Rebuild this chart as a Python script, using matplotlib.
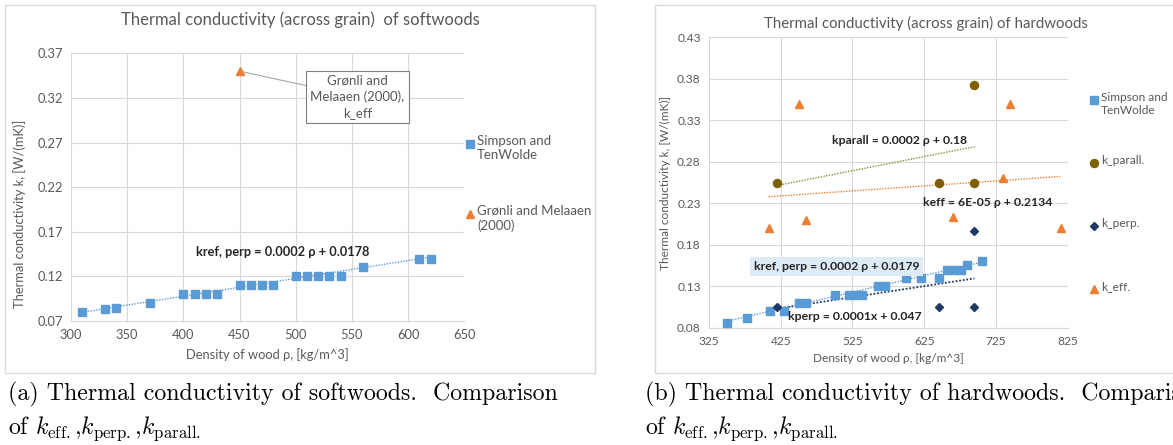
import matplotlib.pyplot as plt
from matplotlib.lines import Line2D
from matplotlib.patches import Rectangle
import numpy as np

plt.rcParams['font.family'] = ['Lato', 'DejaVu Sans']
plt.rcParams['mathtext.fontset'] = 'cm'

W, H = 1173, 445

# Softwoods (Simpson and TenWolde)
soft_rho = [310, 330, 340, 370, 400, 410, 420, 430, 450, 460, 470, 480,
            500, 510, 520, 530, 540, 560, 610, 620]
soft_k = [0.080, 0.083, 0.085, 0.090, 0.100, 0.100, 0.100, 0.100, 0.110, 0.110,
          0.110, 0.110, 0.120, 0.120, 0.120, 0.120, 0.120, 0.130, 0.140, 0.140]
soft_eff_rho = [450]
soft_eff_k = [0.35]
soft_fit = (0.0002, 0.0178)

# Hardwoods
hard_rho = [350, 378, 410, 430, 450, 460, 500, 520, 528, 538, 560, 570,
            600, 620, 645, 657, 666, 676, 685, 705]
hard_k = [0.086, 0.092, 0.100, 0.100, 0.110, 0.110, 0.120, 0.120, 0.120, 0.120,
          0.130, 0.130, 0.140, 0.140, 0.140, 0.150, 0.150, 0.150, 0.155, 0.160]
parall_rho = [420, 645, 695, 695]
parall_k = [0.255, 0.255, 0.255, 0.373]
perp_rho = [420, 645, 695, 695]
perp_k = [0.105, 0.105, 0.105, 0.197]
eff_rho = [408, 450, 460, 665, 735, 745, 815]
eff_k = [0.200, 0.350, 0.210, 0.213, 0.260, 0.350, 0.200]

hard_fit = (0.0002, 0.0179)
parall_fit = (0.00017, 0.18)
perp_fit = (0.000133, 0.047)
eff_fit = (0.00006, 0.2134)

BLUE = '#5B9BD5'
ORANGE = '#ED7D31'
OLIVE = '#7F6000'
NAVY = '#1F3864'
GRID = '#D9D9D9'
TXT = '#595959'


def px(x, y):
    return x / W, 1 - y / H


def axes_px(fig, x0, y0, x1, y1):
    return fig.add_axes([x0 / W, 1 - y1 / H, (x1 - x0) / W, (y1 - y0) / H])


def style(ax, xt, yt, fs):
    ax.set_xlim(xt[0], xt[-1])
    ax.set_ylim(yt[0], yt[-1])
    ax.set_xticks(xt)
    ax.set_yticks(yt)
    ax.set_yticklabels([f'{v:.2f}' for v in yt])
    ax.grid(True, color=GRID, linewidth=0.8)
    ax.set_axisbelow(True)
    for s in ax.spines.values():
        s.set_visible(False)
    ax.spines['bottom'].set_visible(True)
    ax.spines['bottom'].set_color(GRID)
    ax.tick_params(length=0, labelsize=fs, labelcolor=TXT, pad=6)


def labels(ax, fs, xl_y, yl_x, yl_y):
    ax.set_xlabel('Density of wood ρ, [kg/m^3]', fontsize=fs, color=TXT)
    ax.set_ylabel('Thermal conductivity k, [W/(mK)]', fontsize=fs, color=TXT)
    ax.xaxis.set_label_coords(0.5, xl_y)
    ax.xaxis.label.set_va('center')
    ax.yaxis.set_label_coords(yl_x, yl_y)
    ax.yaxis.label.set_va('center')


def trend(ax, rho, fit, color, lw=1.0):
    x = np.array([min(rho), max(rho)])
    ax.plot(x, fit[0] * x + fit[1], linestyle=(0, (1, 1)), color=color, lw=lw, zorder=2)


def legend_px(fig, x, fs, entries):
    for y, marker, color, ms, label in entries:
        fig.add_artist(Line2D([px(x, 0)[0]], [px(0, y)[1]], marker=marker, color=color,
                              markersize=ms, linestyle='none', transform=fig.transFigure))
        fig.text(px(x + 7, 0)[0], px(0, y - fs * 0.95)[1], label, fontsize=fs, color=TXT,
                 va='top', ha='left', linespacing=1.2)


fig = plt.figure(figsize=(W / 100, H / 100), dpi=100)

# chart frames
fig.add_artist(Rectangle(px(5, 373), 590 / W, 368 / H, transform=fig.transFigure,
                         fill=False, edgecolor=GRID, lw=1.0))
fig.add_artist(Rectangle(px(655, 373), 600 / W, 368 / H, transform=fig.transFigure,
                         fill=False, edgecolor=GRID, lw=1.0))

# softwoods
ax1 = axes_px(fig, 71, 53.3, 464.3, 321)
style(ax1, [300, 350, 400, 450, 500, 550, 600, 650], np.arange(0.07, 0.3701, 0.05), 9.3)
trend(ax1, soft_rho, soft_fit, BLUE)
ax1.plot(soft_rho, soft_k, 's', color=BLUE, markersize=5.8, zorder=3)
ax1.plot(soft_eff_rho, soft_eff_k, '^', color=ORANGE, markersize=5.5, zorder=3)
ax1.annotate('Grønli and\nMelaaen (2000),\nk_eff', xy=(soft_eff_rho[0], soft_eff_k[0]),
             xytext=(555, 0.3213), ha='center', va='center', fontsize=9.5, color=TXT,
             linespacing=1.35,
             bbox=dict(boxstyle='square,pad=0.3', fc='white', ec='#7F7F7F', lw=0.8),
             arrowprops=dict(arrowstyle='-', color='#A6A6A6', lw=0.8, shrinkA=0, shrinkB=2))
ax1.text(488, 0.1472, 'kref, perp = 0.0002 ρ + 0.0178', ha='center', va='center',
         fontsize=9.2, fontweight='bold', color='#262626')
labels(ax1, 9.3, -0.127, -0.132, 0.40)
fig.text(*px(300, 20), 'Thermal conductivity (across grain)  of softwoods',
         ha='center', va='center', fontsize=12, color=TXT)
legend_px(fig, 470, 9.5, [
    (144, 's', BLUE, 5.8, 'Simpson and\nTenWolde'),
    (214, '^', ORANGE, 5.5, 'Grønli and Melaaen\n(2000)'),
])

# hardwoods
ax2 = axes_px(fig, 709, 37.3, 1067.7, 327.7)
style(ax2, [325, 425, 525, 625, 725, 825], np.arange(0.08, 0.4301, 0.05), 8.6)
trend(ax2, hard_rho, hard_fit, BLUE)
trend(ax2, parall_rho, parall_fit, '#8A8A3A')
trend(ax2, eff_rho, eff_fit, ORANGE)
trend(ax2, perp_rho, perp_fit, NAVY, lw=1.3)
ax2.plot(hard_rho, hard_k, 's', color=BLUE, markersize=5.2, zorder=3)
ax2.plot(parall_rho, parall_k, 'o', color=OLIVE, markersize=5.8, zorder=3)
ax2.plot(perp_rho, perp_k, 'D', color=NAVY, markersize=3.8, zorder=3)
ax2.plot(eff_rho, eff_k, '^', color=ORANGE, markersize=5.5, zorder=3)
lab = dict(ha='center', va='center', fontsize=8.8, fontweight='bold', color='#262626')
ax2.text(590.8, 0.3062, 'kparall = 0.0002 ρ + 0.18', **lab)
ax2.text(714, 0.2312, 'keff = 6E-05 ρ + 0.2134', **lab)
ax2.text(503, 0.1536, 'kref, perp = 0.0002 ρ + 0.0179',
         bbox=dict(boxstyle='square,pad=0.3', fc='#DDEBF7', ec='none'), **lab)
ax2.text(528, 0.0941, 'kperp = 0.0001x + 0.047', **lab)
labels(ax2, 8.6, -0.105, -0.12, 0.5)
fig.text(*px(926, 23), 'Thermal conductivity (across grain) of hardwoods',
         ha='center', va='center', fontsize=10.8, color=TXT)
legend_px(fig, 1094, 8.6, [
    (100, 's', BLUE, 5.2, 'Simpson and\nTenWolde'),
    (163, 'o', OLIVE, 5.8, 'k_parall.'),
    (226, 'D', NAVY, 3.8, 'k_perp.'),
    (289, '^', ORANGE, 5.5, 'k_eff.'),
])

# captions
cap = dict(fontsize=17.2, family='cmr10', va='center', ha='left', color='black')
second = r'of $k_{\mathrm{eff.}}$,$k_{\mathrm{perp.}}$,$k_{\mathrm{parall.}}$'
fig.text(*px(8, 394), '(a) Thermal conductivity of softwoods.  Comparison', **cap)
fig.text(*px(8, 429), second, **cap)
fig.text(*px(645, 394), '(b) Thermal conductivity of hardwoods.  Comparison', **cap)
fig.text(*px(645, 429), second, **cap)

fig.savefig('out.png', dpi=100)
